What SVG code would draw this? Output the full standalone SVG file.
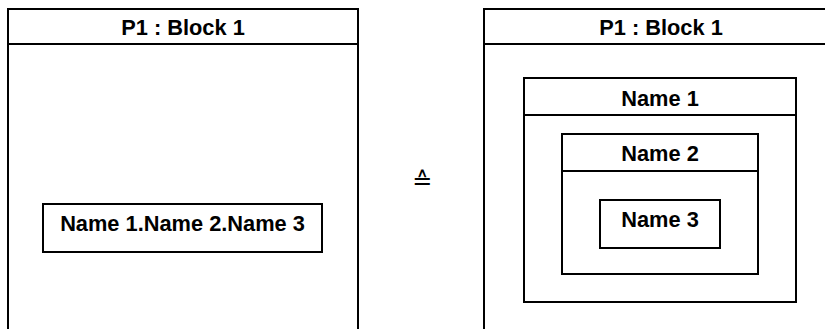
<svg xmlns="http://www.w3.org/2000/svg" width="825" height="329" viewBox="0 0 825 329">
<style>
.box{fill:#fff;stroke:#000;stroke-width:2}
.ln{stroke:#000;stroke-width:2;fill:none}
.t{font-family:"Liberation Sans",Arial,sans-serif;font-weight:bold;font-size:21.8px;fill:#000;text-anchor:middle}
.sym{font-family:"DejaVu Sans",sans-serif;font-size:24px;fill:#000;text-anchor:middle}
</style>
<rect width="825" height="329" fill="#fff"/>
<g id="frame-left">
<rect class="box" x="8" y="9" width="350" height="340"/>
<line class="ln" x1="8" y1="44" x2="358" y2="44"/>
<text class="t" x="183" y="35">P1 : Block 1</text>
</g>
<g id="node-name123">
<rect class="box" x="43" y="204" width="279" height="48"/>
<text class="t" x="182.5" y="231">Name 1.Name 2.Name 3</text>
</g>
<g id="frame-right">
<rect class="box" x="484" y="9" width="350" height="340"/>
<line class="ln" x1="484" y1="44" x2="834" y2="44"/>
<text class="t" x="661" y="35">P1 : Block 1</text>
</g>
<g id="node-name1">
<rect class="box" x="524" y="78" width="272" height="224"/>
<line class="ln" x1="524" y1="115" x2="796" y2="115"/>
<text class="t" x="660" y="106">Name 1</text>
</g>
<g id="node-name2">
<rect class="box" x="562" y="134" width="196" height="140"/>
<line class="ln" x1="562" y1="171" x2="758" y2="171"/>
<text class="t" x="660" y="161">Name 2</text>
</g>
<g id="node-name3">
<rect class="box" x="600" y="200" width="120" height="48"/>
<text class="t" x="660" y="227">Name 3</text>
</g>
<g id="connectors">
<text class="sym" x="422" y="189">≙</text>
</g>
</svg>
